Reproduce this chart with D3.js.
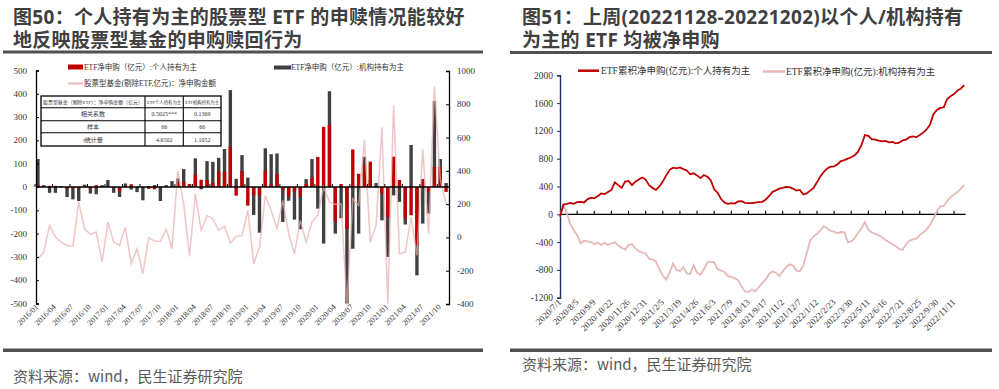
<!DOCTYPE html>
<html>
<head>
<meta charset="utf-8">
<title>ETF 申赎</title>
<script src="https://d3js.org/d3.v7.min.js"></script>
<style>
  html, body { margin: 0; padding: 0; background: #fff; }
  svg { display: block; }
  .title { font-family: "Open Sans", "Noto Sans CJK SC", sans-serif; font-weight: 700; font-size: 19px; letter-spacing: 0.3px; fill: #3f3f3f; }
  .src { font-family: "Noto Sans CJK SC", sans-serif; font-size: 15px; fill: #595959; }
  .tick { font-family: "Liberation Serif", "Noto Sans CJK SC", serif; fill: #333; }
  .lg { font-family: "Liberation Serif", "Noto Sans CJK SC", serif; fill: #333; }
</style>
</head>
<body>
<svg id="chart" width="999" height="389"></svg>
<script>
// ---- 图50 data: monthly, 2016/01 - 2021/11 ----
const months = d3.range(71).map(i => {
  const y = 2016 + Math.floor(i / 12), m = i % 12 + 1;
  return y + "/" + (m < 10 ? "0" + m : m);
});
const monthLabels = ["2016/01","2016/04","2016/07","2016/10","2017/01","2017/04","2017/07","2017/10",
  "2018/01","2018/04","2018/07","2018/10","2019/01","2019/04","2019/07","2019/10",
  "2020/01","2020/04","2020/07","2020/10","2021/01","2021/04","2021/07","2021/10"];
// ETF净申购(亿元):个人持有为主
const etfPersonal = [10,0,5,5,0,-7,-5,-6,0,-8,8,0,0,0,-18,3,12,0,0,-8,-10,0,0,0,
  20,23,10,54,31,30,18,66,66,172,-37,69,-80,-36,-36,70,11,56,-13,-41,-20,-44,13,40,
  129,258,266,-149,13,-179,161,57,94,109,0,-29,-130,130,30,-136,-121,-250,34,-20,86,86,-21];
// ETF净申购(亿元):机构持有为主
const etfInstitution = [120,8,-25,-25,4,-43,-53,-60,10,-28,-31,8,30,-25,-43,15,-11,-22,-57,3,8,-60,8,25,
  37,77,13,123,-10,111,108,125,163,416,35,137,40,-120,-196,166,141,144,-150,-59,-140,-181,34,120,
  -93,-243,411,-200,-134,-500,-265,-200,130,30,17,-143,-300,-36,-64,-161,180,-379,-157,-114,369,120,17];
// 股票型基金(剔除ETF,亿元):净申购金额 (right axis)
const stockFundNet = [-130,-88,72,2,-28,-48,-54,212,52,18,32,-148,92,-28,-48,62,-158,-68,-218,-2,-22,-24,52,-68,
  400,202,-114,262,42,132,112,42,68,-34,6,12,162,-158,-58,252,162,52,222,22,-98,102,-28,92,
  132,302,212,198,202,-410,232,192,588,-28,72,662,-398,792,-98,-88,122,-108,528,22,906,350,200];
const leftTicks = [500,400,300,200,100,0,-100,-200,-300,-400,-500];
const rightTicks = [1000,800,600,400,200,0,-200,-400];
const tableRows = [
  ["股票型基金（剔除ETF）：净申购金额（亿元）", "ETF个人持有为主", "ETF机构持有为主"],
  ["相关系数", "0.5025***", "0.1369"],
  ["样本", "66", "66"],
  ["t统计量", "4.6502", "1.1052"]
];

// ---- 图51 data: cumulative, sampled every 5 trading days from 2020/7/1 (index 0..590) ----
const dayIndex = d3.range(0, 591, 5);
const cumPersonal = [-30,140,150,165,150,175,180,170,215,240,230,260,300,290,320,350,460,420,380,470,
  480,420,470,500,530,500,420,380,350,400,470,560,640,670,660,675,650,630,575,590,
  560,520,565,540,490,360,310,220,170,150,160,155,185,190,165,160,160,168,175,180,
  210,260,320,345,370,380,395,392,370,340,350,285,300,340,380,460,545,610,660,685,
  690,720,765,780,800,820,850,900,1000,1140,1130,1080,1075,1060,1050,1055,1035,1040,1020,1030,
  1065,1075,1110,1120,1110,1140,1175,1220,1290,1440,1500,1530,1540,1660,1700,1730,1780,1810,1860];
const cumInstitution = [-30,130,20,-140,-230,-300,-420,-380,-390,-400,-430,-410,-440,-410,-440,-420,-400,-450,-480,-510,
  -440,-430,-490,-530,-550,-565,-640,-650,-680,-790,-880,-940,-840,-710,-800,-820,-760,-850,-860,-730,
  -840,-870,-790,-690,-680,-690,-790,-810,-830,-890,-900,-920,-950,-1040,-1110,-1120,-1080,-1110,-1050,-990,
  -940,-860,-820,-840,-890,-820,-760,-720,-740,-810,-820,-740,-560,-380,-320,-280,-230,-170,-200,-240,
  -250,-270,-255,-260,-400,-390,-340,-270,-200,-110,-220,-260,-280,-300,-330,-370,-400,-430,-460,-500,
  -510,-430,-380,-360,-350,-300,-260,-220,-150,-60,40,115,120,190,250,285,320,370,420];
const dayTickIdx = d3.range(0, 576, 25);
const dayLabels = ["2020/7/1","2020/8/5","2020/9/9","2020/10/22","2020/11/26","2020/12/31","2021/2/5","2021/3/19",
  "2021/4/26","2021/6/3","2021/7/9","2021/8/13","2021/9/17","2021/11/2","2021/12/7","2022/1/12","2022/2/23",
  "2022/3/30","2022/5/11","2022/6/16","2022/7/21","2022/8/25","2022/9/30","2022/11/11"];
const cumTicks = [2000,1600,1200,800,400,0,-400,-800,-1200];

const svg = d3.select("#chart");
const RED = "#c00000", DARK = "#404040", PINK = "#e6b8b7";

// ---------- titles, rules, sources ----------
svg.append("text").attr("class", "title").attr("x", 13).attr("y", 23.5)
  .text("图50：个人持有为主的股票型  ETF  的申赎情况能较好");
svg.append("text").attr("class", "title").attr("x", 13).attr("y", 47)
  .text("地反映股票型基金的申购赎回行为");
svg.append("text").attr("class", "title").attr("x", 522).attr("y", 23.5)
  .text("图51：上周(20221128-20221202)以个人/机构持有");
svg.append("text").attr("class", "title").attr("x", 522).attr("y", 47)
  .text("为主的 ETF 均被净申购");
svg.append("rect").attr("x", 3).attr("y", 50.5).attr("width", 480).attr("height", 3).attr("fill", "#505050");
svg.append("rect").attr("x", 510).attr("y", 51).attr("width", 482).attr("height", 3).attr("fill", "#505050");
svg.append("rect").attr("x", 3).attr("y", 348.5).attr("width", 480).attr("height", 3.5).attr("fill", "#505050");
svg.append("rect").attr("x", 510).attr("y", 348.5).attr("width", 482).attr("height", 3.5).attr("fill", "#505050");
svg.append("text").attr("class", "src").attr("x", 13).attr("y", 382).text("资料来源：wind，民生证券研究院");
svg.append("text").attr("class", "src").attr("x", 522).attr("y", 370).text("资料来源：wind，民生证券研究院");

// ---------- 图50 ----------
const x1 = d3.scaleBand().domain(months).range([35, 449]).paddingInner(0.42).paddingOuter(0.21);
const y1 = d3.scaleLinear().domain([-500, 500]).range([303.5, 70.5]);
const y1r = d3.scaleLinear().domain([-400, 1000]).range([304, 71]);
const cx = m => x1(m) + x1.bandwidth() / 2;
const g1 = svg.append("g");

g1.selectAll("rect.inst").data(months).join("rect").attr("class", "inst")
  .attr("x", m => x1(m)).attr("width", x1.bandwidth())
  .attr("y", (m, i) => y1(Math.max(0, etfInstitution[i])))
  .attr("height", (m, i) => Math.abs(y1(etfInstitution[i]) - y1(0)))
  .attr("fill", DARK);
g1.selectAll("rect.pers").data(months).join("rect").attr("class", "pers")
  .attr("x", m => x1(m)).attr("width", x1.bandwidth())
  .attr("y", (m, i) => y1(Math.max(0, etfPersonal[i])))
  .attr("height", (m, i) => Math.abs(y1(etfPersonal[i]) - y1(0)))
  .attr("fill", RED);

g1.append("path").datum(stockFundNet)
  .attr("fill", "none").attr("stroke", "#e8aeae").attr("stroke-opacity", 0.7).attr("stroke-width", 1.5)
  .attr("d", d3.line().x((d, i) => cx(months[i])).y(d => y1r(d)));

// axes
const axL = g1.append("g").attr("transform", "translate(36,0)")
  .call(d3.axisRight(y1).tickValues(leftTicks).tickSize(3).tickFormat(""));
axL.select(".domain").attr("stroke", "#000").attr("stroke-width", 1.3);
g1.selectAll("text.yl").data(leftTicks).join("text").attr("class", "tick yl")
  .attr("x", 27).attr("y", d => y1(d) + 3).attr("text-anchor", "end").attr("font-size", 9).text(d => d);

const axR = g1.append("g").attr("transform", "translate(449,0)")
  .call(d3.axisLeft(y1r).tickValues(rightTicks).tickSize(3).tickFormat(""));
axR.select(".domain").attr("stroke", "#000").attr("stroke-width", 1.3);
g1.selectAll("text.yr").data(rightTicks).join("text").attr("class", "tick yr")
  .attr("x", 457).attr("y", d => y1r(d) + 3).attr("font-size", 9).text(d => d);

g1.append("line").attr("x1", 36).attr("x2", 449).attr("y1", y1(0)).attr("y2", y1(0))
  .attr("stroke", "#000").attr("stroke-width", 1.3);
g1.selectAll("line.xt").data(monthLabels).join("line").attr("class", "xt")
  .attr("x1", m => x1(m) - x1.step() * 0.21).attr("x2", m => x1(m) - x1.step() * 0.21)
  .attr("y1", y1(0)).attr("y2", y1(0) - 3).attr("stroke", "#000");
g1.selectAll("text.xl").data(monthLabels).join("text").attr("class", "tick xl")
  .attr("font-size", 8).attr("text-anchor", "end")
  .attr("transform", m => `translate(${cx(m) + 1},${y1(-500) + 4}) rotate(-45)`)
  .text(m => m);

// legend
const lg1 = g1.append("g").attr("class", "lg").attr("font-size", 7.5);
lg1.append("rect").attr("x", 68).attr("y", 64.5).attr("width", 15).attr("height", 5).attr("fill", RED);
lg1.append("text").attr("x", 84).attr("y", 70).text("ETF净申购（亿元）:个人持有为主");
lg1.append("line").attr("x1", 68).attr("x2", 83).attr("y1", 83.5).attr("y2", 83.5)
  .attr("stroke", "#ecc4c4").attr("stroke-width", 2.5);
lg1.append("text").attr("x", 84).attr("y", 86).text("股票型基金(剔除ETF,亿元)：净申购金额");
lg1.append("rect").attr("x", 274).attr("y", 65.5).attr("width", 17).attr("height", 4).attr("fill", DARK);
lg1.append("text").attr("x", 291).attr("y", 70).text("ETF净申购（亿元）:机构持有为主");

// correlation table
const colX = [41, 145, 183.3, 221];
const rowY = [96, 107.7, 120.7, 132.7, 146];
const tb = g1.append("g");
tb.append("rect").attr("x", colX[0]).attr("y", rowY[0]).attr("width", colX[3] - colX[0])
  .attr("height", rowY[4] - rowY[0]).attr("fill", "#fff").attr("stroke", "#000").attr("stroke-width", 1.3);
[1, 2, 3].forEach(r => tb.append("line").attr("x1", colX[0]).attr("x2", colX[3])
  .attr("y1", rowY[r]).attr("y2", rowY[r]).attr("stroke", "#000").attr("stroke-width", 1.1));
[1, 2].forEach(c => tb.append("line").attr("x1", colX[c]).attr("x2", colX[c])
  .attr("y1", rowY[0]).attr("y2", rowY[4]).attr("stroke", "#000").attr("stroke-width", 1.1));
tableRows.forEach((row, r) => row.forEach((t, c) => {
  const maxW = colX[c + 1] - colX[c] - 4;
  const txt = tb.append("text").attr("class", "lg").attr("font-size", 6)
    .attr("x", (colX[c] + colX[c + 1]) / 2).attr("y", (rowY[r] + rowY[r + 1]) / 2 + 2.2)
    .attr("text-anchor", "middle").text(t);
  // shrink header text so it fits its cell
  const w = txt.node().getComputedTextLength();
  if (w > maxW) txt.attr("font-size", 6 * maxW / w);
}));

// ---------- 图51 ----------
const x2 = d3.scaleLinear().domain([0, 590]).range([560, 964.3]);
const y2 = d3.scaleLinear().domain([-1200, 2000]).range([297.7, 75.3]);
const g2 = svg.append("g");

const axY2 = g2.append("g").attr("transform", "translate(560,0)")
  .call(d3.axisLeft(y2).tickValues(cumTicks).tickSize(3).tickFormat(""));
axY2.selectAll("line, path").attr("stroke", "#1f2f5f");
axY2.select(".domain").attr("stroke-width", 1.4);
g2.selectAll("text.yl2").data(cumTicks).join("text").attr("class", "tick yl2")
  .attr("x", 553).attr("y", d => y2(d) + 3.5).attr("text-anchor", "end").attr("font-size", 9.5).text(d => d);

g2.append("line").attr("x1", 560).attr("x2", 965.7).attr("y1", y2(0)).attr("y2", y2(0))
  .attr("stroke", "#000").attr("stroke-width", 1.3);
g2.selectAll("line.xt2").data(dayTickIdx.slice(1)).join("line").attr("class", "xt2")
  .attr("x1", d => x2(d)).attr("x2", d => x2(d)).attr("y1", y2(0)).attr("y2", y2(0) - 3.5)
  .attr("stroke", "#000").attr("stroke-width", 1.1);
g2.selectAll("text.xl2").data(dayLabels).join("text").attr("class", "tick xl2")
  .attr("font-size", 9).attr("text-anchor", "end")
  .attr("transform", (d, i) => `translate(${x2(dayTickIdx[i]) + 2},${y2(-1200) + 5}) rotate(-45)`)
  .text(d => d);

const line2 = d3.line().x((d, i) => x2(dayIndex[i])).y(d => y2(d));
g2.append("path").datum(cumInstitution).attr("fill", "none").attr("stroke", PINK)
  .attr("stroke-width", 1.8).attr("d", line2);
g2.append("path").datum(cumPersonal).attr("fill", "none").attr("stroke", RED)
  .attr("stroke-width", 1.8).attr("d", line2);

const lg2 = g2.append("g").attr("class", "lg").attr("font-size", 9.5);
lg2.append("line").attr("x1", 578).attr("x2", 599).attr("y1", 70.7).attr("y2", 70.7)
  .attr("stroke", RED).attr("stroke-width", 2.5);
lg2.append("text").attr("x", 601).attr("y", 74).text("ETF累积净申购(亿元):个人持有为主");
lg2.append("line").attr("x1", 763).attr("x2", 785).attr("y1", 71.5).attr("y2", 71.5)
  .attr("stroke", PINK).attr("stroke-width", 2.5);
lg2.append("text").attr("x", 786).attr("y", 74.5).text("ETF累积净申购(亿元):机构持有为主");
</script>
</body>
</html>
